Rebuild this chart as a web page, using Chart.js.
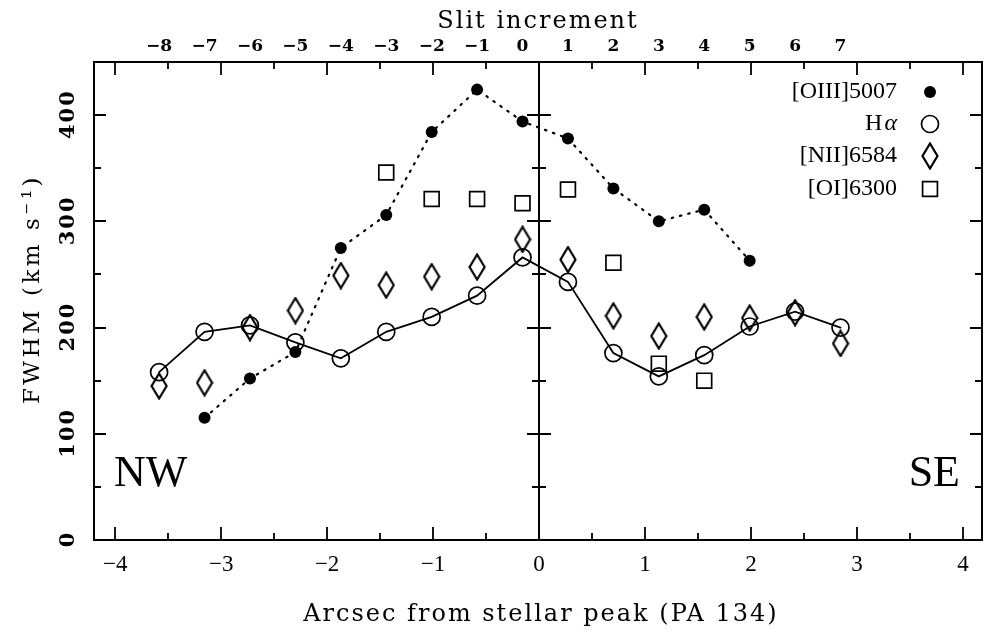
<!DOCTYPE html>
<html><head><meta charset="utf-8">
<script src="https://cdn.jsdelivr.net/npm/chart.js@4/dist/chart.umd.min.js"></script>
<style>html,body{margin:0;padding:0;background:#fff}#wrap{position:relative;width:984px;height:631px}</style>
</head><body><div id="wrap"><canvas id="c" width="984" height="631"></canvas></div>
<script>
// ---- data ----
const slitOIII = [-7,-6,-5,-4,-3,-2,-1,0,1,2,3,4,5];
const fwhmOIII = [115,152,177,275,306,384,424,394,378,331,300,311,263];
const slitHa   = [-8,-7,-6,-5,-4,-3,-2,-1,0,1,2,3,4,5,6,7];
const fwhmHa   = [158,196,202,186,171,196,210,230,266,243,176,154,174,201,215,200];
const slitNII  = [-8,-7,-6,-5,-4,-3,-2,-1,0,1,2,3,4,5,6,7];
const fwhmNII  = [145,148,200,216,249,240,248,257,283,264,211,192,210,209,214,185];
const slitOI   = [-3,-2,-1,0,1,2,3,4];
const fwhmOI   = [346,321,321,317,330,261,166,150];
const slitTickLabels   = [-8,-7,-6,-5,-4,-3,-2,-1,0,1,2,3,4,5,6,7];
const arcsecTickLabels = [-4,-3,-2,-1,0,1,2,3,4];
const fwhmTickLabels   = [0,100,200,300,400];
const seriesNames = ['[OIII]5007','H\u03b1','[NII]6584','[OI]6300'];
const titleTop = 'Slit increment';
const titleBottom = 'Arcsec from stellar peak (PA 134)';
const titleLeft = 'FWHM (km s\u207b\u00b9)';

// axis geometry: slit n lies at arcsec SLIT_ZERO + n*SLIT_STEP
const X_MIN = -4.2, X_MAX = 4.18, Y_MIN = 0, Y_MAX = 450;
const SLIT_STEP = 0.4287, SLIT_ZERO = -0.156;

const minus = v => (v < 0 ? '\u2212' + Math.abs(v) : String(v));
const pts = (xs, ys) => xs.map((x, i) => ({x: x, y: ys[i]}));

// tall diamond marker
const dia = document.createElement('canvas');
dia.width = 18; dia.height = 28;
(function(){const g = dia.getContext('2d'); g.strokeStyle = '#000'; g.lineWidth = 2.2;
  g.beginPath(); g.moveTo(9,1.5); g.lineTo(16.5,14); g.lineTo(9,26.5); g.lineTo(1.5,14); g.closePath(); g.stroke();})();

const styles = [
  {pointStyle:'circle', pointRadius:6, pointBackgroundColor:'#000', pointBorderColor:'#000', pointBorderWidth:0},
  {pointStyle:'circle', pointRadius:8.5, pointBackgroundColor:'rgba(0,0,0,0)', pointBorderColor:'#000', pointBorderWidth:1.7},
  {pointStyle:dia, pointRadius:9, pointBackgroundColor:'rgba(0,0,0,0)', pointBorderColor:'#000', pointBorderWidth:1.7},
  {pointStyle:'rect', pointRadius:10.5, pointBackgroundColor:'rgba(0,0,0,0)', pointBorderColor:'#000', pointBorderWidth:1.7}
];

const decor = {
  id: 'decor',
  beforeDatasetsDraw(chart) {
    const {ctx, chartArea: a, scales} = chart;
    const xs = scales.x, ys = scales.y;
    ctx.save();
    ctx.strokeStyle = '#000';
    ctx.lineWidth = 2;
    ctx.strokeRect(a.left, a.top, a.right - a.left, a.bottom - a.top);
    const x0 = Math.round(xs.getPixelForValue(0));
    ctx.beginPath(); ctx.moveTo(x0, a.top); ctx.lineTo(x0, a.bottom); ctx.stroke();
    ctx.lineWidth = 1.8;
    const xt = [];
    arcsecTickLabels.forEach(v => xt.push([v, 13]));
    for (let i = 0; i < arcsecTickLabels.length - 1; i++) xt.push([(arcsecTickLabels[i] + arcsecTickLabels[i+1]) / 2, 7]);
    ctx.beginPath();
    xt.forEach(([v, L]) => {
      const p = Math.round(xs.getPixelForValue(v));
      if (p <= a.left || p >= a.right) return;
      ctx.moveTo(p, a.bottom); ctx.lineTo(p, a.bottom - L);
      ctx.moveTo(p, a.top); ctx.lineTo(p, a.top + L);
    });
    const yt = [];
    fwhmTickLabels.forEach(v => yt.push([v, 12]));
    fwhmTickLabels.forEach(v => yt.push([v + 50, 7]));
    yt.forEach(([v, L]) => {
      const p = Math.round(ys.getPixelForValue(v));
      if (p <= a.top || p >= a.bottom) return;
      ctx.moveTo(a.left, p); ctx.lineTo(a.left + L, p);
      ctx.moveTo(a.right, p); ctx.lineTo(a.right - L, p);
      ctx.moveTo(x0 - L, p); ctx.lineTo(x0 + L, p);
    });
    ctx.stroke();
    ctx.fillStyle = '#000';
    ctx.font = 'bold 21px "DejaVu Serif"';
    ctx.textAlign = 'center'; ctx.textBaseline = 'middle';
    fwhmTickLabels.forEach(v => {
      const p = ys.getPixelForValue(v);
      ctx.save(); ctx.translate(69, p); ctx.rotate(-Math.PI / 2);
      ctx.letterSpacing = '2px';
      ctx.fillText(String(v), 1, 0); ctx.restore();
    });
    // axis titles
    ctx.font = '24px "DejaVu Serif"';
    ctx.letterSpacing = '2px';
    ctx.fillText(titleTop, 538, 22);
    ctx.fillText(titleBottom, 541, 615);
    ctx.save(); ctx.translate(33, 291); ctx.rotate(-Math.PI / 2);
    ctx.font = '23px "DejaVu Serif"';
    ctx.letterSpacing = '3.5px';
    ctx.fillText(titleLeft, 2, 0); ctx.restore();
    ctx.restore();
  },
  afterDatasetsDraw(chart) {
    const {ctx} = chart;
    ctx.save();
    ctx.letterSpacing = '0px';
    ctx.fillStyle = '#000';
    ctx.textBaseline = 'middle';
    ctx.textAlign = 'right';
    const ly = [92, 124, 156, 189];
    const tx = 897, sx = 930;
    ctx.font = '24px "Liberation Serif"';
    seriesNames.forEach((name, i) => {
      if (i === 1) {
        ctx.font = 'italic 24px "Liberation Serif"';
        ctx.fillText('\u03b1', tx, ly[i]);
        const w = ctx.measureText('\u03b1').width;
        ctx.font = '24px "Liberation Serif"';
        ctx.fillText('H', tx - w - 2, ly[i]);
      } else {
        ctx.fillText(name, tx, ly[i]);
      }
      const s = styles[i];
      ctx.fillStyle = s.pointBackgroundColor; ctx.strokeStyle = '#000'; ctx.lineWidth = s.pointBorderWidth;
      Chart.helpers.drawPoint(ctx, {pointStyle: s.pointStyle, radius: s.pointRadius, rotation: 0, borderWidth: s.pointBorderWidth}, sx, ly[i]);
      ctx.fillStyle = '#000';
    });
    ctx.font = '44px "Liberation Serif"';
    ctx.textAlign = 'left'; ctx.textBaseline = 'alphabetic';
    ctx.fillText('NW', 114, 486);
    ctx.textAlign = 'right';
    ctx.fillText('SE', 960, 486);
    ctx.restore();
  }
};

const ds = (label, xs, ys, i, line) => Object.assign({
  label: label, data: pts(xs, ys), xAxisID: 'x2', yAxisID: 'y',
  showLine: !!line, borderColor: '#000', borderWidth: line === 'dot' ? 2.2 : 1.8,
  borderDash: line === 'dot' ? [1.5, 7] : [], borderCapStyle: 'round', fill: false, tension: 0
}, styles[i]);

new Chart(document.getElementById('c'), {
  type: 'scatter',
  data: { datasets: [
    ds(seriesNames[0], slitOIII, fwhmOIII, 0, 'dot'),
    ds(seriesNames[1], slitHa, fwhmHa, 1, 'solid'),
    ds(seriesNames[2], slitNII, fwhmNII, 2, null),
    ds(seriesNames[3], slitOI, fwhmOI, 3, null)
  ]},
  options: {
    responsive: false, animation: false, devicePixelRatio: 1,
    layout: { autoPadding: false, padding: { left: 0, right: 2, top: 0, bottom: 0 } },
    plugins: { legend: { display: false }, tooltip: { enabled: false } },
    scales: {
      x: {
        type: 'linear', position: 'bottom', min: X_MIN, max: X_MAX,
        afterBuildTicks: s => { s.ticks = arcsecTickLabels.map(v => ({value: v})); },
        grid: { display: false, drawTicks: false }, border: { display: false },
        ticks: { color: '#000', padding: 11, maxRotation: 0, autoSkip: false,
                 font: { family: '"Liberation Serif"', size: 23 }, callback: v => minus(v) },
        title: { display: false },
        afterFit: s => { s.height = 91; }
      },
      x2: {
        type: 'linear', position: 'top',
        min: (X_MIN - SLIT_ZERO) / SLIT_STEP, max: (X_MAX - SLIT_ZERO) / SLIT_STEP,
        afterBuildTicks: s => { s.ticks = slitTickLabels.map(v => ({value: v})); },
        grid: { display: false, drawTicks: false }, border: { display: false },
        ticks: { color: '#000', padding: 5, maxRotation: 0, autoSkip: false,
                 font: { family: '"DejaVu Serif"', size: 17, weight: 'bold' }, callback: v => minus(v) },
        title: { display: false },
        afterFit: s => { s.height = 62; }
      },
      y: {
        type: 'linear', position: 'left', min: Y_MIN, max: Y_MAX,
        afterBuildTicks: s => { s.ticks = fwhmTickLabels.map(v => ({value: v})); },
        grid: { display: false, drawTicks: false }, border: { display: false },
        ticks: { display: false },
        title: { display: false },
        afterFit: s => { s.width = 94; }
      }
    }
  },
  plugins: [decor]
});
</script></body></html>
